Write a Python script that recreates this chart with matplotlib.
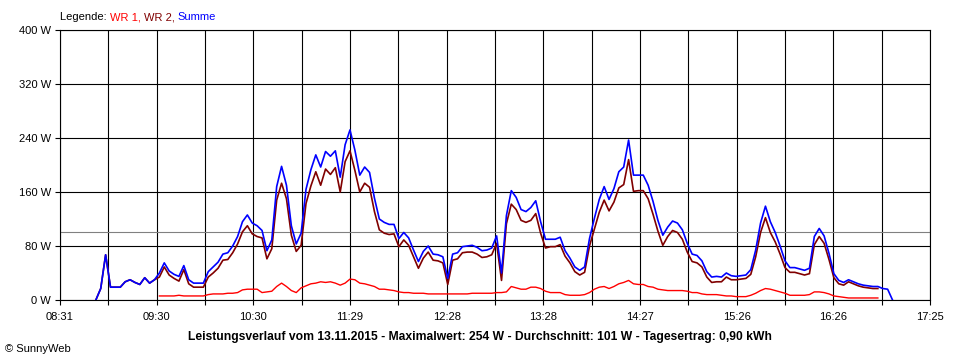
import numpy as np
import matplotlib
matplotlib.use("Agg")
import matplotlib.pyplot as plt

plt.rcParams['font.family'] = ['Liberation Sans', 'DejaVu Sans']

# ---- data (minutes since midnight, watts) ----
summe_start = 8 * 60 + 53   # 08:53
wr1_start = 9 * 60 + 32     # 09:32
wr2_start = 8 * 60 + 53     # 08:53
step_min = 3

summe = [0, 17, 67, 19, 19, 19, 27, 30, 26, 23,
         33, 25, 30, 40, 55, 43, 38, 35, 51, 30,
         25, 25, 25, 42, 49, 56, 68, 70, 80, 94,
         116, 126, 114, 110, 103, 73, 89, 168, 198, 170,
         110, 83, 99, 164, 193, 215, 197, 220, 213, 221,
         182, 230, 252, 222, 185, 197, 189, 151, 120, 115,
         112, 112, 91, 100, 92, 74, 57, 72, 80, 68,
         67, 64, 32, 68, 70, 79, 80, 81, 78, 73,
         74, 77, 95, 40, 125, 162, 152, 134, 131, 137,
         147, 116, 90, 90, 90, 93, 73, 62, 49, 44,
         49, 91, 121, 149, 168, 149, 165, 190, 197, 237,
         185, 185, 185, 170, 146, 118, 96, 108, 117, 114,
         104, 84, 68, 66, 58, 42, 34, 35, 34, 40,
         36, 35, 36, 37, 45, 74, 114, 139, 116, 100,
         80, 58, 48, 48, 46, 44, 47, 94, 106, 95,
         69, 39, 29, 26, 30, 27, 24, 22, 21, 20,
         20, 17, 16, 0]

wr1 = [6, 6, 6, 6, 7, 6, 6, 6, 6, 6,
       8, 9, 9, 9, 10, 10, 11, 15, 16, 16,
       16, 11, 12, 13, 20, 25, 20, 14, 11, 18,
       21, 24, 25, 27, 26, 27, 25, 22, 25, 31,
       30, 25, 24, 22, 20, 16, 16, 15, 14, 12,
       11, 11, 10, 10, 10, 9, 9, 9, 9, 9,
       9, 9, 9, 9, 10, 10, 10, 10, 10, 11,
       11, 12, 20, 18, 16, 16, 19, 19, 17, 13,
       11, 11, 11, 8, 7, 7, 7, 8, 11, 16,
       19, 20, 17, 20, 24, 26, 29, 24, 23, 23,
       20, 19, 16, 15, 14, 14, 14, 14, 13, 11,
       11, 9, 8, 8, 8, 7, 6, 6, 5, 5,
       5, 7, 10, 14, 17, 16, 14, 12, 10, 7,
       7, 7, 7, 8, 12, 12, 11, 9, 6, 5,
       4, 3, 3, 3, 3, 3, 3, 3]

wr2 = [0, 17, 67, 19, 19, 19, 27, 30, 26, 23,
       33, 25, 30, 34, 49, 37, 32, 28, 45, 24,
       19, 19, 19, 34, 40, 47, 59, 60, 70, 83,
       101, 110, 98, 94, 92, 61, 76, 148, 173, 150,
       96, 72, 81, 143, 169, 190, 170, 194, 186, 196,
       160, 205, 221, 192, 160, 173, 167, 131, 104, 99,
       97, 98, 79, 89, 81, 64, 47, 62, 71, 59,
       58, 55, 23, 59, 61, 70, 71, 71, 68, 63,
       64, 67, 84, 29, 113, 142, 134, 118, 115, 118,
       128, 99, 77, 79, 79, 82, 65, 55, 42, 37,
       41, 80, 105, 130, 148, 132, 145, 166, 171, 208,
       161, 162, 162, 150, 127, 102, 81, 94, 103, 100,
       90, 71, 57, 55, 49, 34, 26, 27, 27, 34,
       30, 30, 31, 32, 38, 64, 100, 122, 100, 86,
       68, 48, 41, 41, 39, 37, 39, 82, 94, 84,
       60, 33, 24, 22, 27, 24, 21, 19, 18, 17,
       17]

x_min, x_max = 8 * 60 + 31, 17 * 60 + 25
x_labels = ["08:31", "09:30", "10:30", "11:29", "12:28",
            "13:28", "14:27", "15:26", "16:26", "17:25"]
y_ticks = [0, 80, 160, 240, 320, 400]
avg_w = 101

title = ("Leistungsverlauf vom 13.11.2015 - Maximalwert: 254 W - "
         "Durchschnitt: 101 W - Tagesertrag: 0,90 kWh")

# ---- figure ----
fig = plt.figure(figsize=(9.6, 3.6), dpi=100)
ax = fig.add_axes([60 / 960, 60 / 360, 870 / 960, 270 / 360])
ax.set_xlim(x_min, x_max)
ax.set_ylim(0, 400)

grid_x = np.linspace(x_min, x_max, 2 * (len(x_labels) - 1) + 1)
ax.set_xticks(grid_x)
lbls = []
for k in range(len(grid_x)):
    lbls.append(x_labels[k // 2] if k % 2 == 0 else "")
ax.set_xticklabels(lbls)
ax.set_yticks(y_ticks)
ax.set_yticklabels([f"{v} W" for v in y_ticks])

ax.grid(True, color='black', linewidth=0.8)
ax.set_axisbelow(True)
for s in ax.spines.values():
    s.set_color('black')
    s.set_linewidth(0.8)
ax.tick_params(direction='out', length=3.6, width=0.8, labelsize=8,
               pad=3, colors='black')
ax.tick_params(axis='x', pad=5)

ax.axhline(avg_w, color='#808080', linewidth=0.8, zorder=1.5)

def tgrid(start, vals):
    return start + step_min * np.arange(len(vals))

ax.plot(tgrid(wr1_start, wr1), wr1, color='#ff0000', lw=1.0, zorder=3)
ax.plot(tgrid(wr2_start, wr2), wr2, color='#800000', lw=1.2, zorder=4)
ax.plot(tgrid(summe_start, summe), summe, color='#0000ff', lw=1.2, zorder=5)

# legend line
t0 = fig.text(60 / 960, 1 - 22 / 360, "Legende: ", fontsize=8,
              color='black', va='bottom', ha='left')
prev = t0
for txt, col in [("WR 1, ", '#ff0000'), ("WR 2, ", '#800000'),
                 ("Summe", '#0000ff')]:
    prev = ax.annotate(txt, xy=(1, 0), xycoords=prev, fontsize=8,
                       color=col, va='bottom', ha='left')

fig.text(480 / 960, 1 - 337 / 360, title, ha='center', va='center',
         fontsize=8.7, fontweight='bold')
fig.text(5 / 960, 1 - 349 / 360, "\u00a9 SunnyWeb", ha='left',
         va='center', fontsize=8)

fig.savefig("out.png", dpi=100)
